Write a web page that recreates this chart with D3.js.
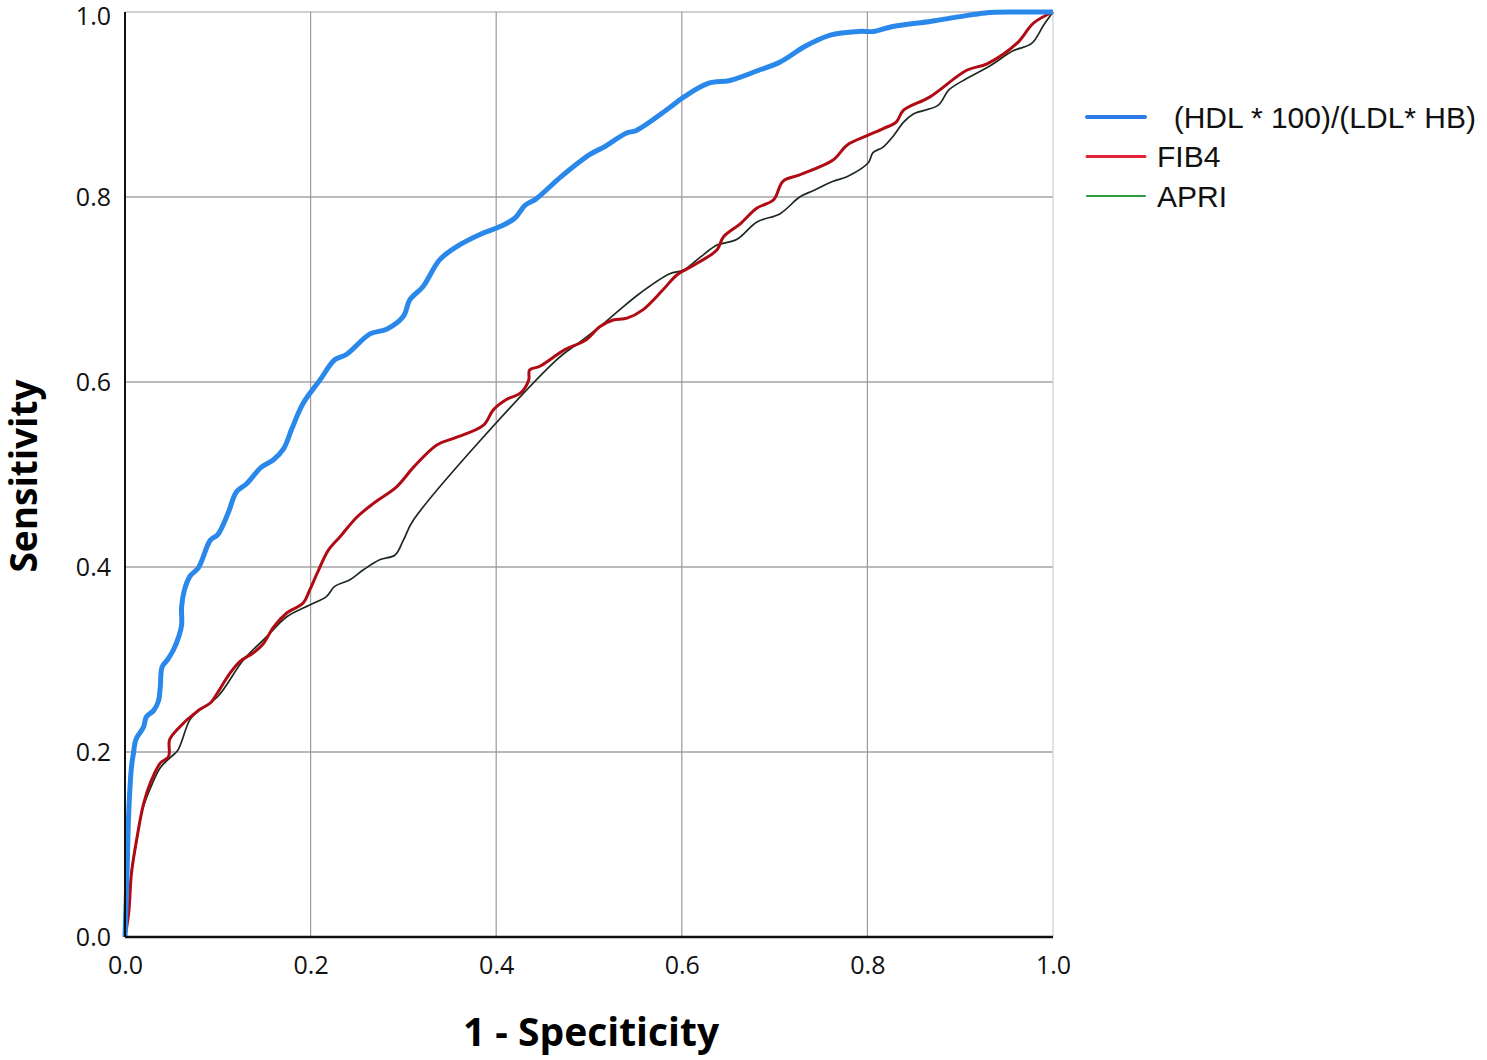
<!DOCTYPE html>
<html>
<head>
<meta charset="utf-8">
<script src="https://cdn.jsdelivr.net/npm/d3@7"></script>
<style>
  body { margin: 0; background: #fff; }
  svg { display: block; }
</style>
</head>
<body>
<div id="chart"></div>
<script>
// ROC curve points: [1 - specificity, sensitivity]
const hdlPoints = [[0,0],[0.002,0.062],[0.004,0.134],[0.007,0.184],[0.009,0.198],[0.011,0.211],[0.013,0.216],[0.02,0.227],[0.023,0.238],[0.031,0.245],[0.036,0.255],[0.038,0.27],[0.04,0.292],[0.046,0.3],[0.052,0.31],[0.058,0.325],[0.061,0.337],[0.061,0.357],[0.064,0.375],[0.07,0.39],[0.079,0.399],[0.092,0.429],[0.1,0.435],[0.111,0.458],[0.12,0.481],[0.131,0.49],[0.147,0.508],[0.16,0.516],[0.171,0.528],[0.18,0.55],[0.192,0.577],[0.21,0.602],[0.226,0.624],[0.239,0.63],[0.264,0.652],[0.282,0.657],[0.3,0.671],[0.307,0.689],[0.321,0.703],[0.339,0.732],[0.357,0.746],[0.386,0.761],[0.404,0.768],[0.42,0.777],[0.431,0.791],[0.443,0.798],[0.47,0.822],[0.501,0.846],[0.516,0.854],[0.54,0.869],[0.551,0.872],[0.586,0.896],[0.602,0.908],[0.629,0.923],[0.652,0.926],[0.683,0.937],[0.706,0.946],[0.733,0.963],[0.76,0.975],[0.791,0.979],[0.807,0.979],[0.826,0.984],[0.869,0.99],[0.9,0.995],[0.927,0.999],[0.96,1],[1,1]];

const fib4Points = [[0,0],[0.004,0.026],[0.007,0.069],[0.013,0.108],[0.02,0.144],[0.027,0.166],[0.038,0.188],[0.047,0.195],[0.048,0.213],[0.056,0.224],[0.079,0.245],[0.092,0.253],[0.099,0.263],[0.113,0.285],[0.124,0.298],[0.138,0.307],[0.149,0.317],[0.16,0.335],[0.174,0.35],[0.192,0.361],[0.199,0.375],[0.207,0.393],[0.219,0.418],[0.232,0.433],[0.25,0.454],[0.268,0.469],[0.293,0.487],[0.311,0.508],[0.336,0.532],[0.354,0.539],[0.386,0.553],[0.397,0.57],[0.411,0.581],[0.426,0.588],[0.435,0.602],[0.436,0.613],[0.447,0.617],[0.474,0.635],[0.496,0.645],[0.512,0.66],[0.526,0.667],[0.541,0.669],[0.558,0.678],[0.58,0.7],[0.595,0.716],[0.616,0.728],[0.638,0.743],[0.645,0.757],[0.663,0.771],[0.681,0.788],[0.699,0.797],[0.709,0.817],[0.727,0.824],[0.763,0.84],[0.778,0.856],[0.799,0.866],[0.817,0.874],[0.831,0.881],[0.839,0.894],[0.867,0.908],[0.907,0.937],[0.929,0.944],[0.961,0.966],[0.979,0.988],[1,1]];

const apriPoints = [[0,0],[0.004,0.03],[0.007,0.072],[0.012,0.1],[0.018,0.135],[0.027,0.16],[0.038,0.183],[0.05,0.195],[0.057,0.202],[0.07,0.235],[0.079,0.244],[0.1,0.26],[0.128,0.3],[0.153,0.325],[0.174,0.346],[0.199,0.359],[0.217,0.368],[0.226,0.379],[0.242,0.386],[0.257,0.397],[0.275,0.408],[0.291,0.413],[0.3,0.429],[0.311,0.451],[0.465,0.624],[0.49,0.643],[0.512,0.66],[0.533,0.678],[0.555,0.696],[0.587,0.717],[0.602,0.721],[0.62,0.735],[0.638,0.748],[0.659,0.754],[0.681,0.773],[0.706,0.782],[0.727,0.8],[0.742,0.807],[0.763,0.817],[0.778,0.822],[0.801,0.837],[0.806,0.848],[0.817,0.854],[0.828,0.866],[0.839,0.881],[0.85,0.89],[0.876,0.899],[0.888,0.916],[0.907,0.928],[0.931,0.941],[0.957,0.958],[0.977,0.966],[0.99,0.986],[1,1]];

const seriesNames = ["  (HDL * 100)/(LDL* HB)", "FIB4", "APRI"];
const legendColors = ["#2b7de3", "#e5243a", "#2e9a3e"];
const tickValues = [0, 0.2, 0.4, 0.6, 0.8, 1.0];

var opt = {
  width: 1487,
  height: 1060,
  margin: {top: 12, left: 125},
  inWidth: 928,
  inHeight: 925
};

var svg = d3.select("#chart").append("svg")
  .attr("width", opt.width)
  .attr("height", opt.height);

var g = svg.append("g")
  .attr("transform", `translate(${opt.margin.left},${opt.margin.top})`);

var x = d3.scaleLinear().domain([0, 1]).range([0, opt.inWidth]);
var y = d3.scaleLinear().domain([0, 1]).range([opt.inHeight, 0]);

// grid
g.selectAll(".hgrid")
  .data(tickValues.slice(1))
  .enter().append("line")
  .attr("x1", 0).attr("x2", opt.inWidth)
  .attr("y1", d => y(d)).attr("y2", d => y(d))
  .style("stroke", d => d === 1 ? "#a0a0a0" : "#777")
  .style("stroke-width", 1.2);

g.selectAll(".vgrid")
  .data(tickValues.slice(1))
  .enter().append("line")
  .attr("y1", 0).attr("y2", opt.inHeight)
  .attr("x1", d => x(d)).attr("x2", d => x(d))
  .style("stroke", d => d === 1 ? "#cfcfcf" : "#a0979a")
  .style("stroke-width", 1.2);

// axes (only the labels, lines drawn separately)
var xAxis = g.append("g")
  .attr("transform", `translate(0,${opt.inHeight})`)
  .call(d3.axisBottom(x).tickValues(tickValues).tickFormat(d3.format(".1f")).tickSize(0).tickPadding(19));
var yAxis = g.append("g")
  .call(d3.axisLeft(y).tickValues(tickValues).tickFormat(d3.format(".1f")).tickSize(0).tickPadding(14));
[xAxis, yAxis].forEach(function(a) {
  a.select(".domain").remove();
  a.selectAll("text")
    .style("font-family", "'Open Sans', sans-serif")
    .style("font-size", "25px")
    .style("fill", "#111");
});
// keep the top label inside the picture
yAxis.selectAll(".tick").filter(d => d === 1).select("text").attr("dy", "0.5em");

// curves
var line = d3.line()
  .x(d => x(d[0]))
  .y(d => y(d[1]))
  .curve(d3.curveCatmullRom.alpha(0.5));

g.append("path").datum(apriPoints)
  .attr("d", line)
  .style("fill", "none")
  .style("stroke", "#1c2a1e")
  .style("stroke-width", 1.7);

g.append("path").datum(fib4Points)
  .attr("d", line)
  .style("fill", "none")
  .style("stroke", "#b00a14")
  .style("stroke-width", 3);

g.append("path").datum(hdlPoints)
  .attr("d", line)
  .style("fill", "none")
  .style("stroke", "#2a88ea")
  .style("stroke-width", 5)
  .style("stroke-linejoin", "round");

// axis lines
g.append("line")
  .attr("x1", 0).attr("x2", 0).attr("y1", 0).attr("y2", opt.inHeight)
  .style("stroke", "#111").style("stroke-width", 2);
g.append("line")
  .attr("x1", 0).attr("x2", opt.inWidth).attr("y1", opt.inHeight).attr("y2", opt.inHeight)
  .style("stroke", "#111").style("stroke-width", 2.5);

// axis titles
svg.append("text")
  .attr("transform", "translate(37,476) rotate(-90)")
  .style("text-anchor", "middle")
  .style("font-family", "'Open Sans', sans-serif")
  .style("font-weight", "bold")
  .style("font-size", "37px")
  .text("Sensitivity");

svg.append("text")
  .attr("x", 591).attr("y", 1046)
  .style("text-anchor", "middle")
  .style("font-family", "'Open Sans', sans-serif")
  .style("font-weight", "bold")
  .style("font-size", "39px")
  .text("1 - Speciticity");

// legend
var legend = svg.append("g").attr("transform", "translate(1087,117)");
var item = legend.selectAll("g")
  .data(seriesNames)
  .enter().append("g")
  .attr("transform", (d, i) => `translate(0,${i * 39.5})`);
item.append("line")
  .attr("x1", 0).attr("x2", 58)
  .style("stroke", (d, i) => legendColors[i])
  .style("stroke-width", (d, i) => [4, 3, 2][i])
  .style("stroke-linecap", "round");
item.append("text")
  .attr("x", 70).attr("dy", "0.36em")
  .attr("xml:space", "preserve")
  .style("white-space", "pre")
  .style("font-family", "'Liberation Sans', Arial, sans-serif")
  .style("font-size", "30px")
  .style("fill", "#111")
  .text(d => d);
</script>
</body>
</html>
